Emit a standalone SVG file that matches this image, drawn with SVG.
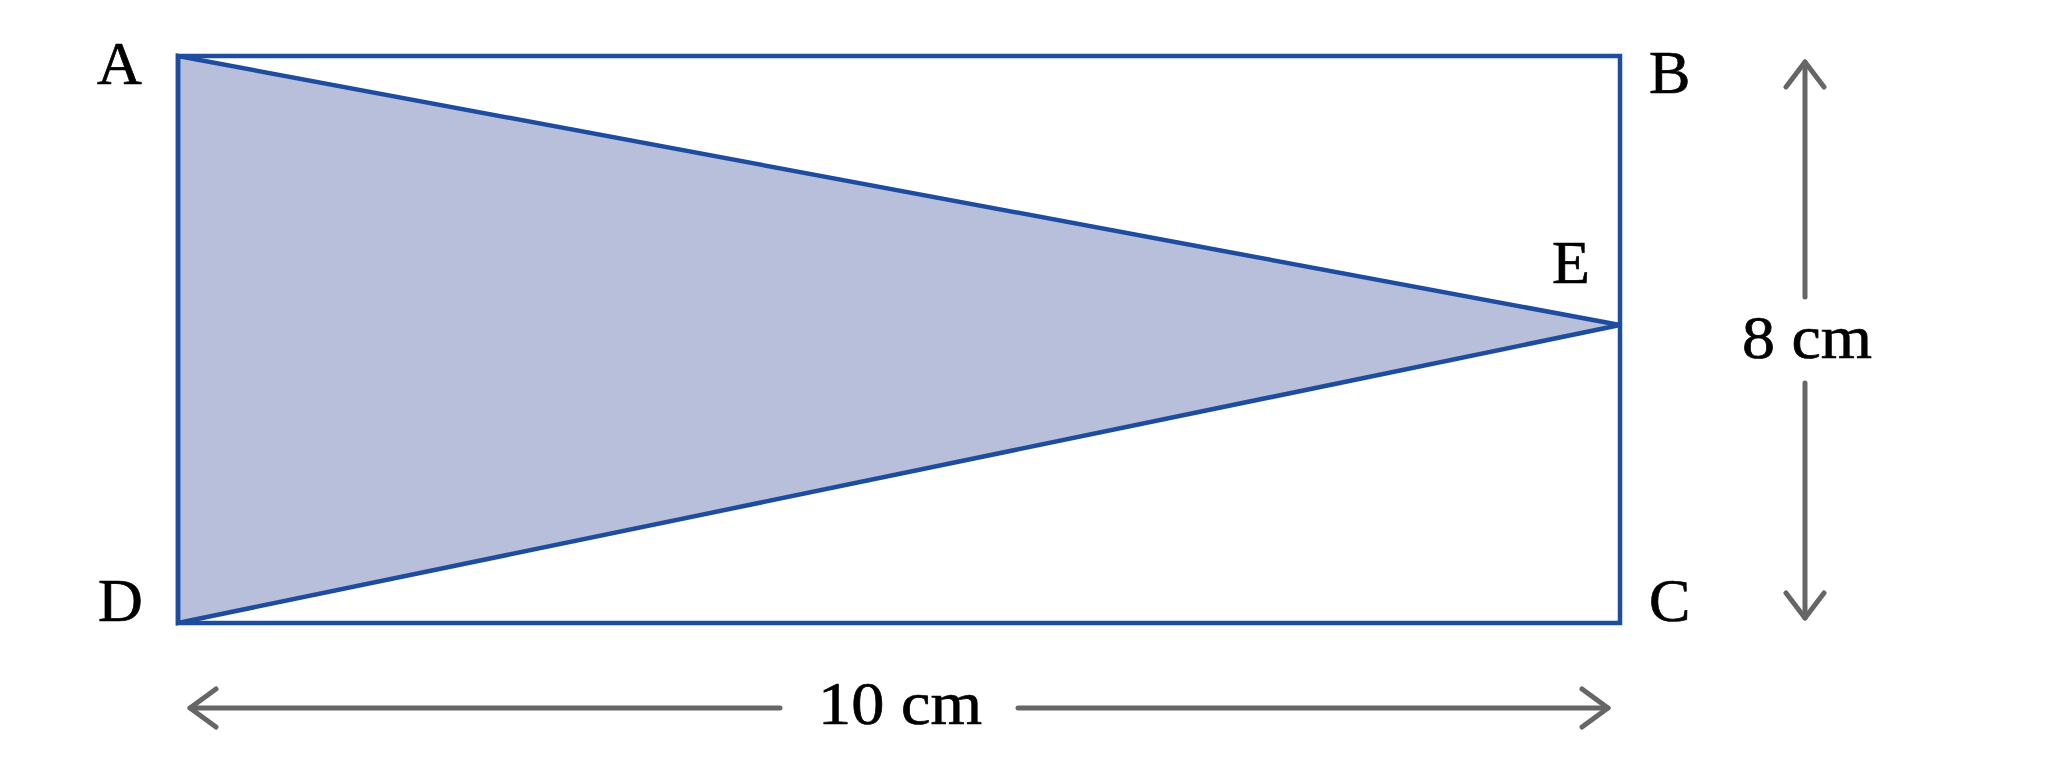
<svg xmlns="http://www.w3.org/2000/svg" width="2048" height="768" viewBox="0 0 2048 768">
<style>
.lbl{font-family:"Liberation Serif","Times New Roman",serif;font-size:62px;fill:#000;stroke:#000;stroke-width:0.7}
.dim{fill:none;stroke:#666;stroke-width:5;stroke-linecap:round;stroke-linejoin:round}
.edge{fill:none;stroke:#1e4c9e;stroke-width:4.5;stroke-linejoin:miter}
</style>
<rect width="2048" height="768" fill="#fff"/>
<g id="triangle">
<polygon points="178,56 1620,325 178,623" fill="#b7bfdb" stroke="#1e4c9e" stroke-width="4.5"/>
</g>
<g id="rectangle">
<rect class="edge" x="178" y="56" width="1442" height="567"/>
</g>
<g id="labels">
<text class="lbl" x="97" y="84">A</text>
<text class="lbl" x="1649" y="93">B</text>
<text class="lbl" x="1649" y="621">C</text>
<text class="lbl" x="98" y="621">D</text>
<text class="lbl" x="1552" y="283">E</text>
</g>
<g id="connectors">
<path class="dim" d="M1805,62 V297 M1805,383 V618"/>
<path class="dim" d="M1786,87 L1805,62 L1824,87 M1786,593 L1805,618 L1824,593"/>
<path class="dim" d="M190,708 H780 M1018,708 H1608"/>
<path class="dim" d="M216,689 L190,708 L216,727 M1582,689 L1608,708 L1582,727"/>
</g>
<g id="dimension-labels">
<text class="lbl" x="1742" y="358" textLength="130" lengthAdjust="spacingAndGlyphs">8 cm</text>
<text class="lbl" x="818" y="724" textLength="164" lengthAdjust="spacingAndGlyphs">10 cm</text>
</g>
</svg>
